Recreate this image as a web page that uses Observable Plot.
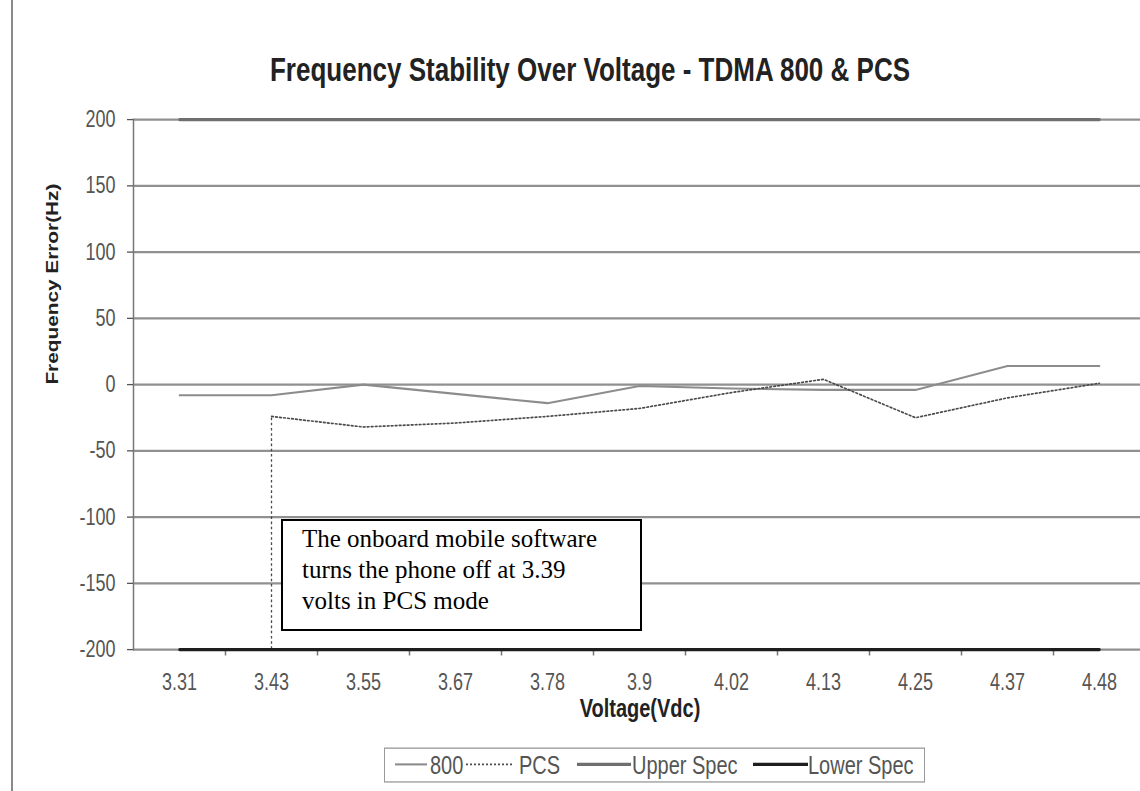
<!DOCTYPE html>
<html>
<head>
<meta charset="utf-8">
<script src="https://cdn.jsdelivr.net/npm/d3@7"></script>
<script src="https://cdn.jsdelivr.net/npm/@observablehq/plot@0.6"></script>
<style>
  html, body { margin: 0; padding: 0; background: #fff; overflow: hidden; }
  body { width: 1140px; height: 791px; position: relative; font-family: "Liberation Sans", Arial, sans-serif; }
  #page-border { position: absolute; left: 11px; top: 0; width: 2px; height: 791px; background: #8a8a8a; }
  #stretch { position: absolute; left: 0; top: 0; width: 1140px; height: 608.5px; transform: scaleY(1.3); transform-origin: 0 0; }
  #chart { position: absolute; left: 0; top: 0; }
  #chart svg { background: transparent; }
  #title { position: absolute; left: 0; width: 1180px; top: 37.5px; line-height: 30px; text-align: center;
           font-weight: bold; font-size: 26px; color: #222; white-space: nowrap; }
  #legend { position: absolute; left: 384px; top: 574.6px; width: 541px; height: 27px; box-sizing: border-box;
            border: 1.5px solid #999; background: #fff; }
  #legend .item { position: absolute; top: 0; height: 24px; display: flex; align-items: center; }
  #legend .lab { font-size: 20px; color: #555; line-height: 24px; white-space: nowrap; }
  #note { position: absolute; left: 281px; top: 519px; width: 361px; height: 112px; box-sizing: border-box;
          border: 2px solid #000; background: #fff; padding: 2px 0 0 19px;
          font-family: "Liberation Serif", "Times New Roman", serif; font-size: 25px; line-height: 31px; color: #000; }
</style>
</head>
<body>
<div id="page-border"></div>
<div id="stretch">
  <div id="chart"></div>
  <div id="title"></div>
  <div id="legend"></div>
</div>
<div id="note">The onboard mobile software<br>turns the phone off at 3.39<br>volts in PCS mode</div>
<script>
// ---- data ----
const voltages = ["3.31", "3.43", "3.55", "3.67", "3.78", "3.9", "4.02", "4.13", "4.25", "4.37", "4.48"];
const series800 = [-8, -8, 0, -7, -14, -1, -3, -4, -4, 14, 14];
const seriesPCS = [null, -24, -32, -29, -24, -18, -6, 4, -25, -10, 1];
const upperSpec = [200, 200, 200, 200, 200, 200, 200, 200, 200, 200, 200];
const lowerSpec = [-200, -200, -200, -200, -200, -200, -200, -200, -200, -200, -200];
const yTicks = [-200, -150, -100, -50, 0, 50, 100, 150, 200];
const pcsCutoffVoltage = "3.43";
const titleText = "Frequency Stability Over Voltage - TDMA 800 & PCS";
const xTitle = "Voltage(Vdc)";
const yTitle = "Frequency Error(Hz)";
const seriesNames = ["800", "PCS", "Upper Spec", "Lower Spec"];

// ---- styles ----
const styles = {
  "800": {stroke: "#8c8c8c", strokeWidth: 1.6, dash: null},
  "PCS": {stroke: "#4a4a4a", strokeWidth: 1.3, dash: "2,2"},
  "Upper Spec": {stroke: "#6f6f6f", strokeWidth: 2.4, dash: null},
  "Lower Spec": {stroke: "#1e1e1e", strokeWidth: 2.4, dash: null}
};

const rows = (vals) => voltages.map((v, i) => ({v, y: vals[i]}));

const H = 608, TOP = 91.5, BOTTOM = 499.2;

const chart = Plot.plot({
  width: 1140,
  height: H,
  marginLeft: 133,
  marginRight: 0,
  marginTop: TOP,
  marginBottom: H - BOTTOM,
  style: {fontFamily: "'Liberation Sans', Arial, sans-serif", fontSize: "18px", color: "#555", background: "transparent"},
  x: {type: "band", domain: voltages, range: [133, 1145], padding: 0},
  y: {domain: [-200, 200]},
  marks: [
    Plot.ruleY(yTicks, {stroke: "#909090", strokeWidth: 1.8}),
    Plot.frame({anchor: "left", stroke: "#777", strokeWidth: 1.5}),
    Plot.axisY({ticks: yTicks, tickSize: 6, tickPadding: 12, label: null, tickFormat: d => String(d)}),
    Plot.axisX({tickSize: 0, tickPadding: 18, label: null}),
    Plot.ruleX(voltages.slice(1), {x: d => d, dx: -46, insetTop: BOTTOM - TOP, insetBottom: -5, stroke: "#777", strokeWidth: 1.5}),
    Plot.ruleX([pcsCutoffVoltage], {x: d => d, y1: -200, y2: seriesPCS[voltages.indexOf(pcsCutoffVoltage)],
      stroke: styles.PCS.stroke, strokeWidth: styles.PCS.strokeWidth, strokeDasharray: styles.PCS.dash}),
    Plot.lineY(rows(upperSpec), {x: "v", y: "y", stroke: styles["Upper Spec"].stroke, strokeWidth: styles["Upper Spec"].strokeWidth}),
    Plot.lineY(rows(lowerSpec), {x: "v", y: "y", stroke: styles["Lower Spec"].stroke, strokeWidth: styles["Lower Spec"].strokeWidth}),
    Plot.lineY(rows(series800), {x: "v", y: "y", stroke: styles["800"].stroke, strokeWidth: styles["800"].strokeWidth}),
    Plot.lineY(rows(seriesPCS), {x: "v", y: "y", stroke: styles.PCS.stroke, strokeWidth: styles.PCS.strokeWidth, strokeDasharray: styles.PCS.dash}),
    Plot.text([yTitle], {frameAnchor: "left", rotate: -90, dx: -81, fontWeight: "bold", fontSize: 16, fill: "#222"}),
    Plot.text([xTitle], {frameAnchor: "bottom", dy: 51.6, dx: 3, fontWeight: "bold", fontSize: 20, fill: "#222"})
  ]
});
document.getElementById("chart").appendChild(chart);
document.getElementById("title").textContent = titleText;

// ---- legend ----
const legendLayout = [
  {sx: 10, sw: 32, tx: 45},
  {sx: 81, sw: 47, tx: 134},
  {sx: 192, sw: 54, tx: 247},
  {sx: 368, sw: 55, tx: 423}
];
const legend = d3.select("#legend");
seriesNames.forEach((name, i) => {
  const st = styles[name], L = legendLayout[i];
  const s = legend.append("div").attr("class", "item").style("left", L.sx + "px");
  const svg = s.append("svg").attr("width", L.sw).attr("height", 24);
  svg.append("line").attr("x1", 0).attr("x2", L.sw).attr("y1", 12).attr("y2", 12)
    .attr("stroke", st.stroke).attr("stroke-width", st.strokeWidth)
    .attr("stroke-dasharray", st.dash);
  legend.append("div").attr("class", "item").style("left", L.tx + "px")
    .append("span").attr("class", "lab").text(name);
});
</script>
</body>
</html>
